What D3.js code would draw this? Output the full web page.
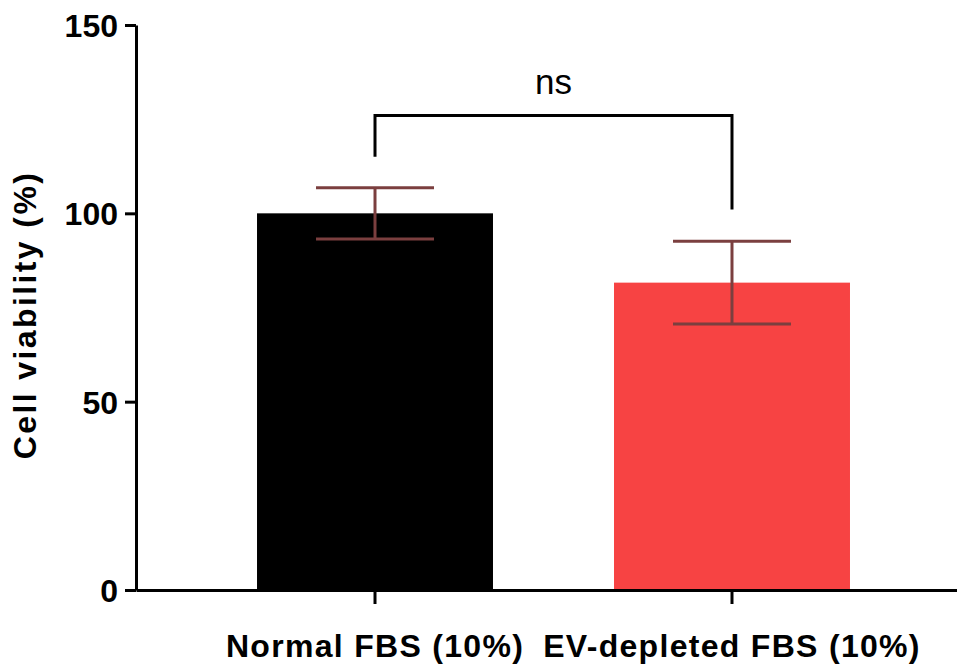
<!DOCTYPE html>
<html>
<head>
<meta charset="utf-8">
<script src="https://cdn.jsdelivr.net/npm/d3@7"></script>
<style>
  html, body { margin: 0; padding: 0; background: #fff; }
  svg { display: block; font-family: "Liberation Sans", Arial, sans-serif; }
</style>
</head>
<body>
<div id="chart"></div>
<script>
// Cell viability bar chart with SD error bars and an "ns" bracket.
const categories = ['Normal FBS (10%)', 'EV-depleted FBS (10%)'];
const means = [100, 81.6];
const errors = [6.8, 11];
const barColors = ['#000000', '#f74343'];
const yTicks = [0, 50, 100, 150];
const bracketY = 126;
const bracketLegs = [115, 101];
const sigLabel = 'ns';

(function(){
  const width = 957, height = 666;
  const svg = d3.select('#chart').append('svg')
    .attr('width', width)
    .attr('height', height);

  const x = d3.scaleBand()
    .domain(categories)
    .range([136, 971])
    .paddingInner(0.339)
    .paddingOuter(0.339);

  const y = d3.scaleLinear()
    .domain([0, 150])
    .range([590, 25]);

  const rows = categories.map((c, i) => ({cat: c, mean: means[i], err: errors[i], color: barColors[i]}));

  // bars
  svg.append('g').selectAll('rect')
    .data(rows)
    .join('rect')
    .attr('x', d => x(d.cat))
    .attr('width', x.bandwidth())
    .attr('y', d => y(d.mean))
    .attr('height', d => y(0) - y(d.mean))
    .attr('fill', d => d.color);

  // error bars
  const capHalf = x.bandwidth() * 0.25;
  const eb = svg.append('g')
    .attr('stroke', '#7b3f3f')
    .attr('stroke-width', 3)
    .attr('fill', 'none');
  rows.forEach(d => {
    const cx = x(d.cat) + x.bandwidth() / 2;
    eb.append('line').attr('x1', cx).attr('x2', cx)
      .attr('y1', y(d.mean + d.err)).attr('y2', y(d.mean - d.err));
    [d.mean + d.err, d.mean - d.err].forEach(v => {
      eb.append('line').attr('x1', cx - capHalf).attr('x2', cx + capHalf)
        .attr('y1', y(v)).attr('y2', y(v));
    });
  });

  // axes
  const yAxis = svg.append('g')
    .attr('transform', 'translate(136,0)')
    .call(d3.axisLeft(y).tickValues(yTicks).tickSize(11).tickPadding(7).tickSizeOuter(0));
  yAxis.select('.domain').attr('stroke-width', 3);
  yAxis.selectAll('.tick line').attr('stroke-width', 3);
  yAxis.selectAll('.tick text')
    .attr('font-size', 32)
    .attr('font-weight', 'bold')
    .attr('fill', '#000')
    .attr('dy', '0.36em');

  const xAxis = svg.append('g')
    .attr('transform', 'translate(0,590)')
    .call(d3.axisBottom(x).tickSize(14).tickSizeOuter(0).tickPadding(30));
  xAxis.select('.domain').attr('stroke-width', 3);
  xAxis.selectAll('.tick line').attr('stroke-width', 3);
  xAxis.selectAll('.tick text')
    .attr('font-size', 32)
    .attr('font-weight', 'bold')
    .attr('letter-spacing', 1.3)
    .attr('fill', '#000')
    .attr('y', 67)
    .attr('dy', 0);

  // y axis title
  svg.append('text')
    .attr('transform', 'translate(36,315) rotate(-90)')
    .attr('text-anchor', 'middle')
    .attr('font-size', 32)
    .attr('font-weight', 'bold')
    .attr('letter-spacing', 2.4)
    .text('Cell viability (%)');

  // significance bracket
  const x1 = x(categories[0]) + x.bandwidth() / 2;
  const x2 = x(categories[1]) + x.bandwidth() / 2;
  svg.append('path')
    .attr('d', `M${x1},${y(bracketLegs[0])}V${y(bracketY)}H${x2}V${y(bracketLegs[1])}`)
    .attr('fill', 'none')
    .attr('stroke', '#000')
    .attr('stroke-width', 3);
  svg.append('text')
    .attr('x', (x1 + x2) / 2)
    .attr('y', 94)
    .attr('text-anchor', 'middle')
    .attr('font-size', 35)
    .text(sigLabel);
})();
</script>
</body>
</html>
